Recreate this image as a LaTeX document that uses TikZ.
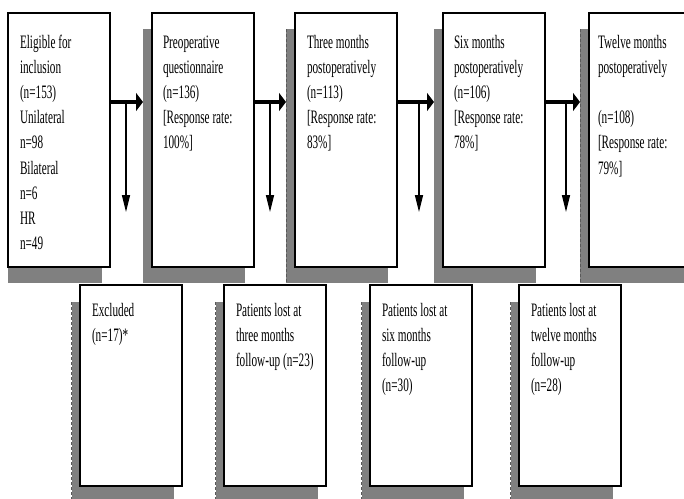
\documentclass[tikz,border=0pt]{standalone}
\usepackage{fontspec}
\setmainfont[FakeStretch=0.59]{Liberation Serif}
\usetikzlibrary{arrows.meta}
\definecolor{shadowgray}{RGB}{128,128,128}
\begin{document}
\begin{tikzpicture}[x=1pt,y=-1pt,
  box/.style={draw=black, line width=1.3pt, fill=white, inner sep=0pt, outer sep=0pt, anchor=north west, minimum width=102pt},
  topbox/.style={box, minimum height=254pt},
  lowbox/.style={box, minimum height=201pt},
  shade/.style={fill=shadowgray, draw=none, inner sep=0pt, outer sep=0pt, anchor=north west, minimum width=102pt},
  topshade/.style={shade, minimum height=254pt},
  lowshade/.style={shade, minimum height=201pt},
  shadeedge/.style={draw=black!65, line width=0.6pt, densely dashed},
  txt/.style={anchor=north west, inner sep=0pt, outer sep=0pt, align=left, font=\fontsize{19}{25.2}\selectfont},
  harrow/.style={line width=3.5pt, -{Triangle[length=7pt,width=18pt]}},
  varrow/.style={line width=1.5pt, -{Triangle[length=17pt,width=8pt]}},
]
\useasboundingbox (0,0) rectangle (684,498);
\clip (0,0) rectangle (684,498);

% shadows of top boxes
\node[topshade, minimum width=94pt] (S1) at (8,29) {};
\node[topshade] (S2) at (143,29) {};
\node[topshade] (S3) at (286,29) {};
\node[topshade] (S4) at (434,29) {};
\node[topshade, minimum width=110pt] (S5) at (580,29) {};
\draw[shadeedge] (S3.north west) -- (S3.south west);
\draw[shadeedge] (S5.north west) -- (S5.south west);

% shadows of lower boxes
\node[lowshade] (Q1) at (71.5,302) {};
\node[lowshade] (Q2) at (215.5,302) {};
\node[lowshade] (Q3) at (361.5,302) {};
\node[lowshade] (Q4) at (510.5,302) {};
\foreach \q in {Q1,Q2,Q3,Q4} \draw[shadeedge] (\q.north west) -- (\q.south west);

% top boxes
\node[topbox] (B1) at (8,13) {};
\node[topbox] (B2) at (152,13) {};
\node[topbox] (B3) at (295,13) {};
\node[topbox] (B4) at (443,13) {};
\node[topbox] (B5) at (589,13) {};

% lower boxes
\node[lowbox] (L1) at (80,285) {};
\node[lowbox] (L2) at (224,285) {};
\node[lowbox] (L3) at (370,285) {};
\node[lowbox] (L4) at (519,285) {};

% texts
\node[txt] (B1t) at (20,34) {\rule{0pt}{14pt}Eligible for\\inclusion\\(n=153)\\Unilateral\\n=98\\Bilateral\\n=6\\HR\\n=49};
\node[txt] (B2t) at (163,34) {\rule{0pt}{14pt}Preoperative\\questionnaire\\(n=136)\\{[}Response rate:\\100\%]};
\node[txt] (B3t) at (307,34) {\rule{0pt}{14pt}Three months\\postoperatively\\(n=113)\\{[}Response rate:\\83\%]};
\node[txt] (B4t) at (454,34) {\rule{0pt}{14pt}Six months\\postoperatively\\(n=106)\\{[}Response rate:\\78\%]};
\node[txt] (B5t) at (598,34) {\rule{0pt}{14pt}Twelve months\\postoperatively\\[25.2pt](n=108)\\{[}Response rate:\\79\%]};

\node[txt] (L1t) at (92,302) {\rule{0pt}{14pt}Excluded\\(n=17)*};
\node[txt] (L2t) at (236,302) {\rule{0pt}{14pt}Patients lost at\\three months\\follow-up (n=23)};
\node[txt] (L3t) at (382,302) {\rule{0pt}{14pt}Patients lost at\\six months\\follow-up\\(n=30)};
\node[txt] (L4t) at (531,302) {\rule{0pt}{14pt}Patients lost at\\twelve months\\follow-up\\(n=28)};

% horizontal arrows
\draw[harrow] ([yshift=38pt]B1.east) -- ([yshift=38pt]B1.east -| S2.west);
\draw[harrow] ([yshift=38pt]B2.east) -- ([yshift=38pt]B2.east -| S3.west);
\draw[harrow] ([yshift=38pt]B3.east) -- ([yshift=38pt]B3.east -| S4.west);
\draw[harrow] ([yshift=38pt]B4.east) -- ([yshift=38pt]B4.east -| S5.west);

% vertical arrows
\coordinate (j1) at (126,102); \coordinate (d1) at (126,212);
\coordinate (j2) at (270,102); \coordinate (d2) at (270,212);
\coordinate (j3) at (419,102); \coordinate (d3) at (419,212);
\coordinate (j4) at (566,102); \coordinate (d4) at (566,212);
\draw[varrow] (j1) -- (d1);
\draw[varrow] (j2) -- (d2);
\draw[varrow] (j3) -- (d3);
\draw[varrow] (j4) -- (d4);
\end{tikzpicture}
\end{document}
